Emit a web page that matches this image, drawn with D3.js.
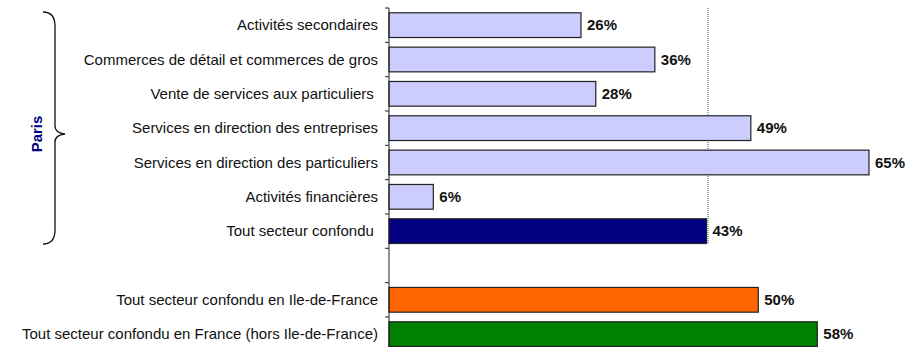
<!DOCTYPE html>
<html>
<head>
<meta charset="utf-8">
<script src="https://cdn.jsdelivr.net/npm/d3@7"></script>
<style>
  html, body { margin: 0; padding: 0; background: #fff; }
  svg { display: block; font-family: "Liberation Sans", Arial, sans-serif; }
</style>
</head>
<body>
<svg id="chart" width="918" height="347"></svg>
<script>
// Categories, top to bottom (an empty slot separates Paris from the regional totals)
const categories = [
  "Activités secondaires",
  "Commerces de détail et commerces de gros",
  "Vente de services aux particuliers ",
  "Services en direction des entreprises",
  "Services en direction des particuliers",
  "Activités financières",
  "Tout secteur confondu ",
  "",
  "Tout secteur confondu en Ile-de-France",
  "Tout secteur confondu en France (hors Ile-de-France)"
];
const values = [26, 36, 28, 49, 65, 6, 43, null, 50, 58];
const groups = ["paris", "paris", "paris", "paris", "paris", "paris", "parisTotal", "gap", "idf", "france"];
const referenceValue = 43;
const groupLabel = "Paris";

const colors = {
  paris: "#CCCCFF",
  parisTotal: "#000080",
  idf: "#FF6600",
  france: "#008000"
};

const svg = d3.select("#chart");
const axisX = 389;

const x = d3.scaleLinear().domain([0, 65]).range([axisX, 869]);
const y = d3.scaleBand()
  .domain(d3.range(categories.length))
  .range([8, 351.3])
  .paddingInner(0.28)
  .paddingOuter(0.14);
const step = y.step();
const bandTop = i => y(i) - y.paddingOuter() * step;

// Reference line at the Paris overall value
svg.append("line")
  .attr("x1", x(referenceValue) + 1.5).attr("x2", x(referenceValue) + 1.5)
  .attr("y1", 8).attr("y2", y(6) + y.bandwidth())
  .attr("stroke", "#2F5F8F")
  .attr("stroke-width", 1)
  .attr("stroke-dasharray", "1,1");

// Bars
const data = categories.map((c, i) => ({ c, v: values[i], g: groups[i], i }));
svg.append("g").selectAll("rect")
  .data(data.filter(d => d.v != null))
  .join("rect")
  .attr("x", x(0))
  .attr("y", d => y(d.i))
  .attr("width", d => x(d.v) - x(0))
  .attr("height", y.bandwidth())
  .attr("fill", d => colors[d.g])
  .attr("stroke", "#222")
  .attr("stroke-width", 1.2);

// Value labels
svg.append("g").selectAll("text")
  .data(data.filter(d => d.v != null))
  .join("text")
  .attr("x", d => x(d.v) + 6)
  .attr("y", d => y(d.i) + y.bandwidth() / 2)
  .attr("dy", "0.35em")
  .attr("font-size", 15)
  .attr("font-weight", "bold")
  .attr("fill", "#111")
  .text(d => d.v + "%");

// Category axis: vertical line with ticks at band boundaries
const axis = svg.append("g").attr("stroke", "#222").attr("stroke-width", 1);
axis.append("line")
  .attr("x1", axisX).attr("x2", axisX)
  .attr("y1", 8).attr("y2", 347);
axis.selectAll("line.tick")
  .data(d3.range(categories.length + 1))
  .join("line")
  .attr("class", "tick")
  .attr("x1", axisX - 4).attr("x2", axisX)
  .attr("y1", i => (i < categories.length ? bandTop(i) : bandTop(i - 1) + step))
  .attr("y2", i => (i < categories.length ? bandTop(i) : bandTop(i - 1) + step));

// Category labels
svg.append("g").selectAll("text")
  .data(data)
  .join("text")
  .attr("x", 378)
  .attr("y", d => y(d.i) + y.bandwidth() / 2)
  .attr("dy", "0.35em")
  .attr("text-anchor", "end")
  .attr("font-size", 15)
  .attr("fill", "#111")
  .style("white-space", "pre")
  .text(d => d.c);

// Brace grouping the Paris rows
const bTop = 12, bBot = 244, bMid = 134;
const bx = 55, bl = 43, tip = 65;
const brace = d3.path();
brace.moveTo(bl, bTop);
brace.quadraticCurveTo(bx, bTop, bx, bTop + 14);
brace.lineTo(bx, bMid - 8);
brace.quadraticCurveTo(bx, bMid - 1, tip, bMid);
brace.quadraticCurveTo(bx, bMid + 1, bx, bMid + 8);
brace.lineTo(bx, bBot - 14);
brace.quadraticCurveTo(bx, bBot, bl, bBot);
svg.append("path")
  .attr("d", brace.toString())
  .attr("fill", "none")
  .attr("stroke", "#111")
  .attr("stroke-width", 1.3);

svg.append("text")
  .attr("transform", `translate(42, ${bMid}) rotate(-90)`)
  .attr("text-anchor", "middle")
  .attr("font-size", 15)
  .attr("font-weight", "bold")
  .attr("fill", "#000080")
  .text(groupLabel);
</script>
</body>
</html>
